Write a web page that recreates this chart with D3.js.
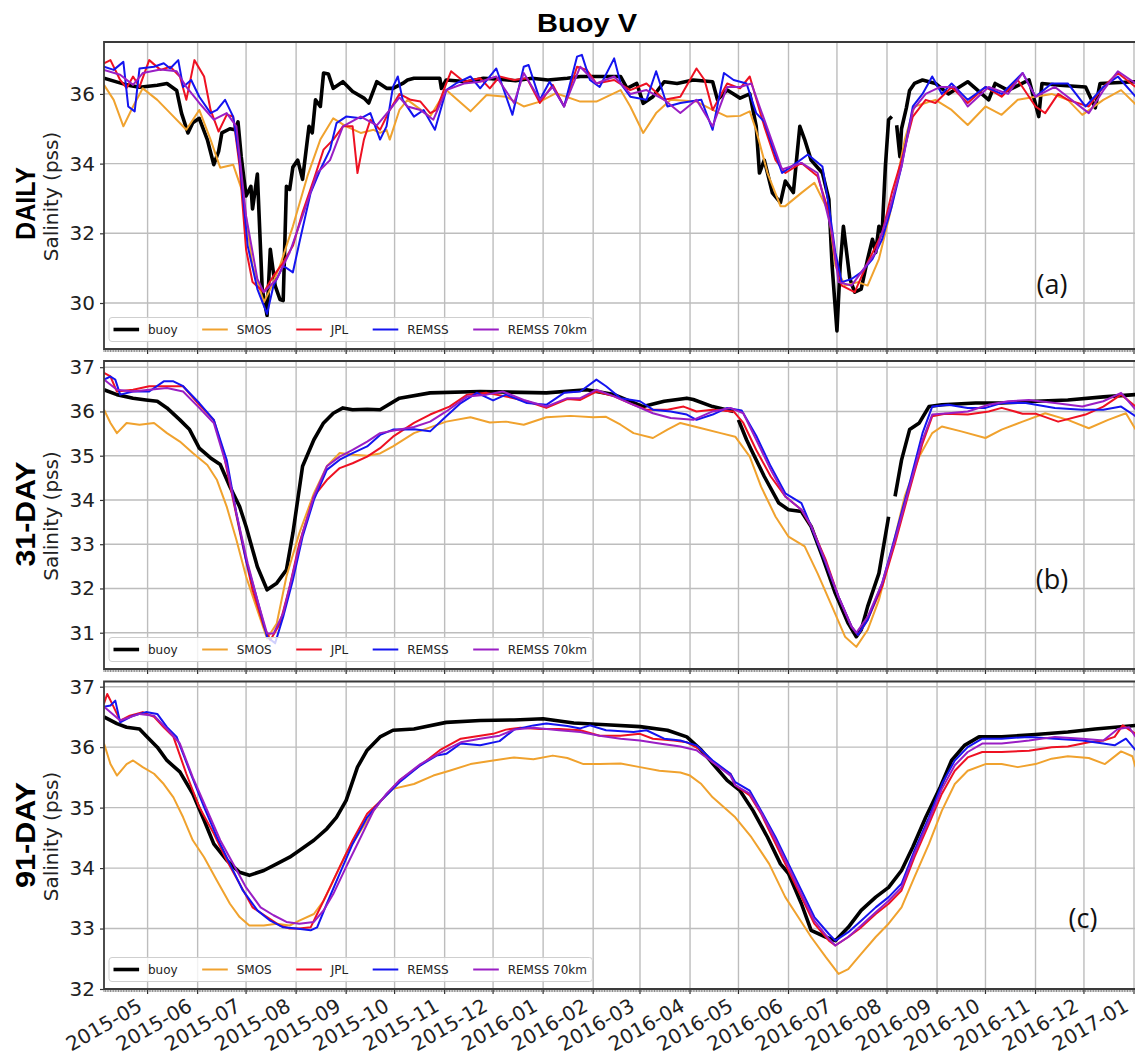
<!DOCTYPE html>
<html>
<head>
<meta charset="utf-8">
<script src="https://cdn.jsdelivr.net/npm/d3@7"></script>
<style>
  body { margin: 0; background: #fff; }
  svg { display: block; }
</style>
</head>
<body>
<svg id="chart"></svg>
<script>
// ---- data (day = days since 2015-04-04, value = salinity in pss) ----
const seriesNames = ["buoy", "SMOS", "JPL", "REMSS", "REMSS 70km"];
const monthTicks = ["2015-05","2015-06","2015-07","2015-08","2015-09","2015-10","2015-11","2015-12",
  "2016-01","2016-02","2016-03","2016-04","2016-05","2016-06","2016-07","2016-08","2016-09","2016-10",
  "2016-11","2016-12","2017-01"];
const yTicksDaily = [30, 32, 34, 36];
const yTicks31 = [31, 32, 33, 34, 35, 36, 37];
const yTicks91 = [32, 33, 34, 35, 36, 37];

// DAILY
const buoyDaily = [[0,36.45],[14,36.26],[22,36.19],[33,36.25],[39,36.3],[45,36.1],[48,35.45],[52,34.88],[55,35.17],[59,35.3],[64,34.69],[68,33.97],[71,34.35],[73,34.88],[78,35.0],[81,34.97],[83,35.2],[85,34.2],[88,33.07],[91,33.35],[92,32.7],[95,33.7],[98,30.4],[101,29.64],[103,31.54],[106,30.5],[109,30.1],[111,30.07],[113,33.35],[115,33.26],[117,33.9],[120,34.1],[123,33.55],[127,35.07],[129,34.88],[131,35.83],[134,35.64],[136,36.6],[139,36.57],[142,36.16],[148,36.35],[154,36.07],[161,35.88],[164,35.74],[169,36.35],[175,36.16],[179,36.16],[185,36.3],[188,36.4],[192,36.45],[208,36.45],[209,36.16],[212,36.4],[225,36.35],[235,36.45],[245,36.42],[255,36.38],[265,36.45],[275,36.4],[287,36.45],[295,36.5],[320,36.5],[324,36.16],[330,36.3],[334,35.73],[340,35.92],[347,36.35],[355,36.3],[365,36.4],[377,36.35],[380,35.83],[386,36.11],[394,35.88],[400,36.0],[404,35.07],[406,33.73],[409,34.1],[414,33.16],[419,32.88],[422,33.5],[427,33.17],[431,35.07],[434,34.69],[438,34.1],[445,33.73],[449,32.97],[451,31.07],[454,29.2],[456,31.07],[458,32.2],[460,31.45],[462,30.69],[465,30.31],[469,30.4],[473,31.26],[476,31.83],[478,31.45],[480,32.2],[482,32.02],[484,33.92],[486,35.26],[488,35.35],[490,null],[491,35.1],[493,34.2],[494,35.0],[497,35.6],[499,36.1],[502,36.3],[507,36.4],[515,36.3],[523,36.0],[535,36.35],[548,35.83],[552,36.3],[560,36.1],[573,36.4],[579,35.35],[581,36.3],[592,36.25],[608,36.2],[614,35.6],[617,36.3],[639,36.35]];
const smosDaily = [[0,36.26],[6,35.83],[12,35.07],[18,35.64],[24,36.16],[33,35.83],[41,35.45],[51,34.97],[59,35.54],[66,34.69],[72,33.88],[80,33.97],[86,33.16],[92,31.07],[99,30.02],[103,30.4],[109,31.07],[117,32.2],[126,33.64],[134,34.69],[142,35.3],[150,35.07],[159,34.88],[167,34.97],[171,34.88],[175,34.97],[177,34.69],[183,35.54],[188,35.83],[202,35.35],[212,36.11],[227,35.5],[237,35.97],[249,35.92],[260,35.64],[270,35.78],[280,36.02],[295,35.78],[305,35.78],[320,36.11],[326,35.64],[334,34.88],[342,35.45],[351,35.83],[367,35.78],[377,35.54],[386,35.35],[394,35.37],[400,35.5],[404,34.95],[411,33.73],[419,32.78],[422,32.78],[432,33.16],[440,33.45],[449,32.6],[453,31.07],[459,30.5],[467,30.6],[473,30.5],[480,31.26],[488,32.78],[496,34.69],[502,35.64],[515,35.83],[525,35.54],[535,35.11],[546,35.64],[556,35.4],[566,35.83],[577,35.92],[587,36.0],[597,35.83],[606,35.4],[619,35.83],[630,36.11],[639,35.7]];
const jplDaily = [[0,36.88],[4,36.97],[10,36.4],[14,36.17],[18,36.5],[22,36.2],[28,36.97],[35,36.69],[41,36.78],[47,36.5],[51,35.83],[56,36.97],[62,36.5],[66,35.54],[71,34.92],[76,35.4],[80,35.35],[84,33.92],[88,31.54],[92,30.6],[99,30.31],[105,30.78],[111,31.16],[117,31.64],[123,32.6],[130,33.55],[136,34.4],[142,34.69],[148,35.07],[154,35.07],[157,33.73],[161,34.69],[165,35.26],[171,34.97],[177,35.54],[183,36.0],[190,35.83],[196,35.78],[202,35.45],[206,35.54],[212,36.3],[215,36.65],[223,36.35],[233,36.45],[239,36.16],[245,36.5],[254,36.4],[262,36.45],[270,35.74],[278,36.26],[285,35.64],[293,36.78],[299,36.69],[305,36.3],[316,36.4],[326,36.11],[336,36.3],[347,35.83],[357,35.92],[367,36.73],[372,36.4],[377,35.54],[386,36.3],[394,36.16],[400,36.5],[406,35.54],[409,35.07],[416,34.1],[422,33.73],[432,34.02],[442,33.64],[449,32.6],[453,31.26],[457,30.5],[465,30.31],[473,31.16],[482,32.0],[488,33.16],[494,34.1],[501,35.35],[509,35.83],[515,35.74],[525,36.2],[535,35.74],[546,36.2],[556,35.92],[566,36.4],[577,35.64],[583,35.45],[591,36.0],[597,35.83],[610,35.64],[619,36.2],[628,36.6],[639,36.2]];
const remssDaily = [[0,36.78],[6,36.69],[12,36.92],[15,35.64],[19,35.5],[22,36.73],[31,36.78],[37,36.88],[41,36.73],[46,36.97],[49,36.2],[54,36.4],[59,35.92],[66,35.45],[70,35.54],[75,35.83],[80,35.35],[84,34.1],[89,31.64],[95,30.4],[101,29.69],[105,30.5],[111,31.07],[117,30.88],[121,31.73],[128,33.16],[134,33.83],[140,34.4],[144,35.16],[150,35.35],[159,35.3],[165,35.45],[171,34.69],[175,35.07],[179,36.2],[182,36.5],[185,35.83],[192,35.35],[198,35.54],[205,34.97],[212,36.11],[218,36.3],[227,36.5],[233,36.16],[243,36.73],[253,35.4],[260,36.78],[263,36.83],[270,35.83],[276,36.35],[285,35.64],[293,37.07],[296,37.12],[301,36.4],[307,36.2],[316,37.02],[320,36.3],[326,35.92],[336,35.83],[342,36.65],[349,35.64],[357,35.74],[370,35.83],[377,34.97],[384,36.6],[390,36.4],[398,36.3],[404,35.45],[409,35.2],[414,34.5],[420,33.73],[426,33.92],[436,34.26],[445,33.92],[449,32.78],[453,31.45],[457,30.6],[463,30.69],[469,30.88],[476,31.26],[482,31.83],[488,32.78],[494,33.92],[501,35.64],[507,36.0],[513,36.5],[519,36.0],[525,36.3],[535,35.83],[546,36.2],[556,36.0],[569,36.6],[577,35.92],[587,36.3],[597,36.3],[608,35.64],[619,36.2],[628,36.5],[639,35.92]];
const remss70Daily = [[0,36.69],[10,36.55],[18,36.26],[24,36.6],[35,36.7],[45,36.65],[51,36.2],[59,35.74],[68,35.26],[76,35.45],[82,35.07],[88,32.5],[95,30.69],[99,30.31],[107,30.69],[115,31.45],[123,32.5],[132,33.73],[140,34.1],[148,35.07],[159,35.35],[169,35.1],[177,35.54],[183,35.9],[188,35.64],[196,35.54],[204,35.26],[212,36.11],[223,36.3],[233,36.35],[243,36.5],[254,35.74],[260,36.6],[270,35.83],[278,36.2],[285,35.64],[295,36.78],[305,36.3],[316,36.5],[326,36.0],[336,36.11],[347,35.83],[357,35.45],[367,35.83],[377,35.07],[386,36.2],[394,36.2],[401,36.3],[409,35.26],[420,33.83],[432,34.02],[442,33.73],[451,32.0],[455,30.6],[463,30.5],[469,30.88],[478,31.45],[486,32.6],[494,33.92],[501,35.54],[509,36.0],[518,36.2],[527,36.2],[535,35.64],[548,36.2],[560,36.0],[569,36.6],[577,35.92],[589,36.2],[610,35.45],[619,36.1],[628,36.65],[639,36.3]];

// 31-DAY
const buoy31 = [[0,36.49],[8,36.38],[18,36.3],[26,36.26],[33,36.23],[39,36.08],[47,35.81],[53,35.59],[59,35.17],[66,34.95],[72,34.8],[78,34.3],[84,33.85],[88,33.4],[95,32.49],[101,31.97],[107,32.12],[113,32.42],[117,33.25],[123,34.76],[130,35.36],[136,35.74],[142,35.96],[148,36.08],[154,36.04],[163,36.05],[171,36.04],[183,36.3],[202,36.42],[233,36.45],[274,36.42],[299,36.49],[316,36.38],[334,36.11],[347,36.23],[361,36.3],[365,36.27],[377,36.11],[390,36.0],[392,null],[393,35.81],[398,35.36],[401,35.13],[409,34.53],[418,33.93],[424,33.78],[432,33.74],[438,33.4],[445,32.72],[453,31.89],[461,31.21],[466,30.91],[469,31.06],[473,31.59],[480,32.34],[486,33.62],[488,null],[490,34.08],[494,34.9],[499,35.59],[505,35.74],[511,36.11],[519,36.15],[540,36.19],[556,36.19],[577,36.23],[597,36.26],[619,36.33],[639,36.38]];
const smos31 = [[0,36.04],[4,35.74],[8,35.51],[14,35.74],[22,35.7],[31,35.74],[39,35.51],[47,35.32],[55,35.06],[64,34.79],[70,34.45],[76,33.85],[82,33.1],[88,32.27],[95,31.51],[101,30.87],[107,31.21],[113,32.27],[121,33.25],[130,34.15],[138,34.76],[146,35.06],[154,35.02],[163,35.0],[171,35.05],[179,35.21],[192,35.51],[212,35.77],[227,35.87],[239,35.75],[249,35.77],[260,35.7],[274,35.87],[289,35.9],[303,35.87],[311,35.88],[320,35.7],[328,35.51],[340,35.4],[349,35.59],[357,35.74],[370,35.62],[382,35.51],[391,35.43],[400,34.98],[407,34.3],[416,33.62],[424,33.17],[434,32.95],[442,32.34],[451,31.59],[459,30.91],[466,30.68],[473,31.06],[480,31.74],[488,32.87],[496,34.08],[505,34.98],[513,35.51],[519,35.66],[531,35.55],[546,35.4],[556,35.59],[569,35.77],[583,35.96],[597,35.81],[610,35.62],[622,35.81],[633,35.96],[639,35.59]];
const jpl31 = [[0,36.87],[4,36.79],[8,36.45],[18,36.49],[28,36.57],[39,36.57],[49,36.57],[59,36.15],[68,35.81],[74,35.06],[80,34.0],[86,32.95],[92,31.97],[99,31.14],[103,30.83],[109,31.21],[115,32.04],[121,33.02],[130,34.08],[138,34.45],[146,34.72],[154,34.83],[163,34.98],[171,35.17],[179,35.43],[192,35.74],[202,35.93],[214,36.11],[225,36.38],[237,36.42],[249,36.34],[262,36.23],[274,36.08],[287,36.28],[295,36.26],[305,36.45],[316,36.34],[328,36.15],[336,36.04],[349,36.04],[359,36.11],[367,36.0],[377,36.04],[390,36.0],[396,35.74],[404,35.13],[413,34.53],[422,34.08],[432,33.78],[438,33.4],[447,32.65],[455,31.81],[463,31.14],[467,30.95],[473,31.29],[482,32.04],[490,33.02],[499,34.23],[507,35.28],[513,35.89],[521,35.95],[535,35.93],[548,36.0],[556,36.08],[569,35.95],[577,35.95],[591,35.77],[608,35.93],[619,36.11],[630,36.38],[639,36.11]];
const remss31 = [[0,36.72],[4,36.79],[7,36.72],[10,36.38],[18,36.45],[28,36.45],[37,36.68],[43,36.68],[49,36.57],[59,36.19],[68,35.81],[76,34.91],[82,33.7],[88,32.64],[95,31.74],[101,30.91],[106,30.76],[111,31.36],[117,32.19],[123,33.17],[130,34.0],[138,34.68],[146,34.91],[154,35.06],[163,35.21],[171,35.47],[179,35.59],[192,35.6],[202,35.55],[212,35.89],[221,36.19],[231,36.42],[241,36.25],[249,36.38],[262,36.19],[274,36.15],[285,36.42],[295,36.45],[305,36.72],[311,36.57],[320,36.3],[332,36.23],[340,36.04],[351,36.0],[361,35.93],[367,35.81],[377,35.93],[386,36.08],[395,36.02],[404,35.45],[413,34.76],[422,34.15],[432,33.93],[438,33.4],[447,32.57],[455,31.81],[463,31.14],[467,30.95],[473,31.29],[482,32.12],[490,33.17],[499,34.38],[507,35.51],[513,36.11],[523,36.15],[535,36.08],[546,36.08],[556,36.19],[571,36.19],[589,36.08],[606,36.04],[619,36.04],[630,36.11],[639,35.89]];
const remss70_31 = [[0,36.72],[8,36.49],[18,36.45],[28,36.49],[39,36.53],[49,36.45],[59,36.08],[68,35.74],[76,34.76],[82,33.7],[89,32.57],[95,31.74],[101,30.98],[105,30.98],[111,31.44],[117,32.34],[123,33.25],[130,34.08],[138,34.76],[146,34.98],[154,35.13],[163,35.32],[171,35.51],[183,35.59],[192,35.65],[202,35.77],[212,36.0],[225,36.34],[237,36.38],[247,36.45],[260,36.26],[274,36.11],[287,36.3],[295,36.3],[305,36.49],[316,36.34],[328,36.15],[340,35.96],[351,35.85],[365,35.81],[377,36.0],[388,36.08],[396,35.96],[404,35.36],[413,34.68],[422,34.08],[432,33.78],[438,33.42],[447,32.6],[455,31.81],[463,31.14],[466,31.0],[473,31.36],[482,32.12],[490,33.1],[499,34.3],[507,35.36],[513,35.93],[523,35.96],[535,36.0],[548,36.15],[560,36.23],[573,36.26],[589,36.19],[606,36.11],[619,36.23],[630,36.42],[639,36.04]];

// 91-DAY
const buoy91 = [[0,36.5],[8,36.39],[14,36.33],[22,36.3],[26,36.19],[33,36.0],[39,35.78],[47,35.59],[55,35.23],[62,34.79],[68,34.4],[76,34.13],[84,33.93],[90,33.88],[99,33.96],[107,34.07],[115,34.18],[121,34.29],[130,34.46],[138,34.65],[144,34.84],[150,35.12],[157,35.67],[163,35.95],[171,36.17],[179,36.28],[192,36.3],[212,36.41],[233,36.44],[254,36.45],[272,36.47],[291,36.4],[311,36.37],[332,36.34],[349,36.28],[361,36.17],[370,35.95],[377,35.73],[386,35.45],[394,35.28],[402,34.95],[411,34.51],[419,34.07],[424,33.91],[432,33.41],[438,32.97],[447,32.86],[453,32.8],[461,33.02],[469,33.3],[478,33.52],[486,33.68],[494,33.96],[501,34.35],[509,34.84],[518,35.34],[525,35.78],[533,36.03],[542,36.17],[556,36.17],[577,36.21],[597,36.25],[614,36.3],[639,36.36]];
const smos91 = [[0,36.06],[4,35.72],[8,35.53],[14,35.72],[18,35.78],[24,35.67],[31,35.56],[37,35.39],[43,35.17],[49,34.84],[55,34.46],[62,34.18],[70,33.79],[78,33.41],[84,33.19],[90,33.05],[99,33.05],[107,33.08],[115,33.05],[121,33.13],[130,33.24],[136,33.46],[142,33.79],[150,34.24],[159,34.62],[167,34.95],[171,35.1],[179,35.31],[192,35.39],[204,35.53],[214,35.61],[227,35.72],[239,35.77],[254,35.83],[266,35.8],[278,35.86],[287,35.82],[297,35.72],[307,35.72],[320,35.73],[332,35.67],[344,35.61],[357,35.58],[363,35.53],[370,35.39],[377,35.17],[391,34.84],[401,34.51],[412,34.07],[422,33.52],[430,33.19],[438,32.86],[447,32.53],[455,32.25],[461,32.33],[469,32.58],[478,32.86],[486,33.08],[494,33.35],[502,33.85],[511,34.4],[519,34.95],[527,35.39],[535,35.61],[546,35.72],[556,35.72],[566,35.67],[577,35.72],[587,35.81],[597,35.85],[610,35.82],[620,35.72],[630,35.93],[637,35.85],[639,35.67]];
const jpl91 = [[0,36.72],[2,36.88],[5,36.72],[10,36.44],[16,36.52],[24,36.58],[31,36.5],[37,36.33],[43,36.17],[51,35.56],[59,35.01],[68,34.57],[76,34.13],[84,33.74],[92,33.35],[101,33.19],[109,33.05],[115,33.0],[121,33.0],[128,33.02],[132,33.24],[138,33.57],[146,34.02],[154,34.46],[163,34.9],[171,35.1],[183,35.45],[196,35.7],[208,35.95],[221,36.14],[233,36.19],[241,36.22],[249,36.29],[258,36.32],[270,36.3],[282,36.3],[295,36.28],[307,36.19],[320,36.19],[332,36.22],[340,36.14],[353,36.11],[361,36.08],[370,35.95],[377,35.75],[388,35.56],[391,35.37],[400,35.2],[407,34.9],[416,34.4],[424,33.96],[432,33.52],[440,33.08],[449,32.8],[453,32.72],[461,32.86],[469,33.02],[478,33.24],[486,33.41],[494,33.63],[502,34.18],[511,34.73],[519,35.23],[527,35.61],[535,35.83],[544,35.92],[556,35.92],[573,35.94],[587,36.0],[597,36.01],[610,36.08],[619,36.11],[626,36.17],[631,36.36],[639,36.22]];
const remss91 = [[0,36.67],[4,36.69],[7,36.77],[10,36.41],[18,36.52],[26,36.58],[33,36.55],[39,36.33],[45,36.17],[53,35.61],[62,35.01],[70,34.51],[78,34.07],[86,33.63],[95,33.3],[103,33.13],[111,33.02],[119,33.0],[128,32.97],[132,33.02],[138,33.41],[146,33.91],[154,34.4],[163,34.84],[171,35.1],[183,35.42],[196,35.7],[206,35.86],[212,35.89],[221,36.06],[233,36.03],[245,36.1],[254,36.29],[266,36.36],[274,36.39],[287,36.35],[295,36.31],[301,36.36],[311,36.28],[328,36.25],[336,36.28],[347,36.14],[357,36.11],[367,36.03],[377,35.78],[388,35.56],[391,35.42],[400,35.28],[407,34.95],[416,34.51],[424,34.07],[432,33.63],[440,33.19],[449,32.91],[453,32.8],[461,32.94],[469,33.13],[478,33.35],[486,33.52],[494,33.74],[502,34.29],[511,34.84],[519,35.39],[527,35.78],[535,36.0],[544,36.14],[556,36.14],[573,36.17],[589,36.14],[606,36.11],[619,36.06],[626,36.03],[633,36.14],[639,35.95]];
const remss70_91 = [[0,36.67],[10,36.44],[22,36.55],[31,36.52],[39,36.3],[47,36.06],[55,35.5],[64,34.95],[72,34.46],[80,34.07],[88,33.68],[97,33.35],[105,33.22],[113,33.11],[121,33.08],[130,33.11],[136,33.3],[142,33.57],[150,34.02],[159,34.51],[167,34.95],[175,35.23],[183,35.45],[196,35.72],[208,35.9],[221,36.08],[233,36.14],[245,36.19],[254,36.29],[266,36.32],[282,36.28],[295,36.25],[307,36.19],[320,36.14],[332,36.11],[344,36.06],[357,36.01],[367,35.95],[377,35.75],[388,35.53],[391,35.37],[400,35.23],[407,34.92],[416,34.46],[424,34.02],[432,33.57],[440,33.13],[449,32.83],[453,32.72],[461,32.86],[469,33.05],[478,33.27],[486,33.46],[494,33.68],[502,34.24],[511,34.79],[519,35.31],[527,35.7],[535,35.92],[544,36.06],[556,36.06],[573,36.11],[589,36.17],[606,36.14],[619,36.11],[628,36.3],[635,36.33],[639,36.17]];

// ---- drawing ----
const W = 1135, H = 1056;
const left = 104, right = 1134;
const colors = ["#000000", "#f0a22e", "#ee1122", "#1414f0", "#9a1ec4"];
const widths = [3.6, 2, 2, 2, 2];

const svg = d3.select("#chart").attr("width", W).attr("height", H);
const start = Date.UTC(2015, 3, 4);
const end = Date.UTC(2017, 0, 1);
const dayDate = d => new Date(start + d * 864e5);
const parseMonth = d3.utcParse("%Y-%m");
const months = monthTicks.map(parseMonth);

const x = d3.scaleUtc().domain([start, end]).range([left, right]);

const panels = [
  { name: "DAILY", tag: "(a)", top: 42, bottom: 349, domain: [28.68, 37.49], ticks: yTicksDaily,
    data: [buoyDaily, smosDaily, jplDaily, remssDaily, remss70Daily],
    nameY: 203.5, nameLen: 73, salY: 196.5, tagX: 1052, tagY: 283 },
  { name: "31-DAY", tag: "(b)", top: 361, bottom: 669, domain: [30.18, 37.14], ticks: yTicks31,
    data: [buoy31, smos31, jpl31, remss31, remss70_31],
    nameY: 514, nameLen: 105, salY: 516, tagX: 1052, tagY: 578 },
  { name: "91-DAY", tag: "(c)", top: 681.5, bottom: 989, domain: [32, 37.086], ticks: yTicks91,
    data: [buoy91, smos91, jpl91, remss91, remss70_91],
    nameY: 835, nameLen: 106, salY: 836.5, tagX: 1083, tagY: 917 }
];

svg.append("text")
  .attr("x", 587).attr("y", 32)
  .attr("text-anchor", "middle")
  .attr("font-family", "Liberation Sans, Arial, sans-serif")
  .attr("font-weight", "bold").attr("font-size", 25)
  .attr("textLength", 100).attr("lengthAdjust", "spacingAndGlyphs")
  .text("Buoy V");

panels.forEach((p, i) => {
  const y = d3.scaleLinear().domain(p.domain).range([p.bottom, p.top]);
  const g = svg.append("g");

  // grid
  g.append("g").selectAll("line").data(months).join("line")
    .attr("x1", d => x(d)).attr("x2", d => x(d))
    .attr("y1", p.top).attr("y2", p.bottom)
    .attr("stroke", "#bdbdbd").attr("stroke-width", 1.4);
  g.append("g").selectAll("line").data(p.ticks).join("line")
    .attr("x1", left).attr("x2", W)
    .attr("y1", d => y(d)).attr("y2", d => y(d))
    .attr("stroke", "#bdbdbd").attr("stroke-width", 1.4);

  // series
  const clipId = "clip" + i;
  svg.append("clipPath").attr("id", clipId).append("rect")
    .attr("x", left).attr("y", p.top).attr("width", W - left).attr("height", p.bottom - p.top);
  const line = d3.line()
    .defined(d => d[1] !== null)
    .x(d => x(dayDate(d[0])))
    .y(d => y(d[1]));
  const lg = g.append("g").attr("clip-path", `url(#${clipId})`);
  p.data.forEach((s, k) => {
    lg.append("path").datum(s)
      .attr("fill", "none")
      .attr("stroke", colors[k])
      .attr("stroke-width", widths[k])
      .attr("stroke-linejoin", "round")
      .attr("d", line);
  });

  // y axis
  const yAxis = g.append("g")
    .attr("transform", `translate(${left},0)`)
    .call(d3.axisLeft(y).tickValues(p.ticks).tickSize(4).tickPadding(5).tickFormat(d3.format("d")));
  yAxis.select(".domain").remove();
  yAxis.selectAll(".tick line").attr("stroke", "#333").attr("stroke-width", 1.2);
  yAxis.selectAll(".tick text")
    .attr("font-family", "DejaVu Sans, sans-serif").attr("font-size", 20).attr("fill", "#222");

  // x minor (daily) and major (monthly) ticks
  const xAxis = g.append("g").attr("transform", `translate(0,${p.bottom})`);
  xAxis.append("g").selectAll("line").data(d3.utcDay.range(start, end)).join("line")
    .attr("x1", d => x(d)).attr("x2", d => x(d))
    .attr("y1", 0).attr("y2", 3)
    .attr("stroke", "#555").attr("stroke-width", 0.7);
  xAxis.append("g").selectAll("line").data(months).join("line")
    .attr("x1", d => x(d)).attr("x2", d => x(d))
    .attr("y1", 0).attr("y2", 5)
    .attr("stroke", "#333").attr("stroke-width", 1.2);

  // frame
  g.append("path")
    .attr("d", `M${W},${p.top}H${left}V${p.bottom}H${W}`)
    .attr("fill", "none").attr("stroke", "#3a3a3a").attr("stroke-width", 1.8);

  // axis names
  svg.append("text")
    .attr("transform", `translate(35,${p.nameY}) rotate(-90)`)
    .attr("text-anchor", "middle")
    .attr("font-family", "Liberation Sans, Arial, sans-serif")
    .attr("font-weight", "bold").attr("font-size", 28)
    .attr("textLength", p.nameLen).attr("lengthAdjust", "spacingAndGlyphs")
    .text(p.name);
  svg.append("text")
    .attr("transform", `translate(58,${p.salY}) rotate(-90)`)
    .attr("text-anchor", "middle")
    .attr("font-family", "DejaVu Sans, sans-serif").attr("font-size", 20).attr("fill", "#222")
    .text("Salinity (pss)");

  // panel tag
  svg.append("text")
    .attr("x", p.tagX).attr("y", p.tagY)
    .attr("text-anchor", "middle").attr("dominant-baseline", "central")
    .attr("font-family", "Open Sans, sans-serif").attr("font-size", 27).attr("fill", "#111")
    .text(p.tag);

  // legend
  const legH = 24, legX = 109, legY = p.bottom - 7.5 - legH;
  const leg = svg.append("g").attr("transform", `translate(${legX},${legY})`);
  const box = leg.append("rect")
    .attr("height", legH).attr("rx", 3)
    .attr("fill", "#fff").attr("fill-opacity", 0.8)
    .attr("stroke", "#cfcfcf").attr("stroke-width", 1);
  let cx = 4.5;
  seriesNames.forEach((nm, k) => {
    leg.append("line")
      .attr("x1", cx).attr("x2", cx + 25.6)
      .attr("y1", legH / 2).attr("y2", legH / 2)
      .attr("stroke", colors[k]).attr("stroke-width", widths[k]);
    const t = leg.append("text")
      .attr("x", cx + 34.5).attr("y", legH / 2)
      .attr("dominant-baseline", "central")
      .attr("font-family", "DejaVu Sans, sans-serif").attr("font-size", 12).attr("fill", "#222")
      .text(nm);
    cx += 34.5 + t.node().getComputedTextLength() + 24.5;
  });
  box.attr("width", cx - 24.5 + 5.5);

  // month labels on the bottom panel
  if (i === panels.length - 1) {
    svg.append("g").selectAll("text").data(months).join("text")
      .attr("transform", d => `translate(${x(d) - 4},${p.bottom + 21}) rotate(-30)`)
      .attr("text-anchor", "end")
      .attr("font-family", "DejaVu Sans, sans-serif").attr("font-size", 20).attr("fill", "#222")
      .text((d, j) => monthTicks[j]);
  }
});
</script>
</body>
</html>
